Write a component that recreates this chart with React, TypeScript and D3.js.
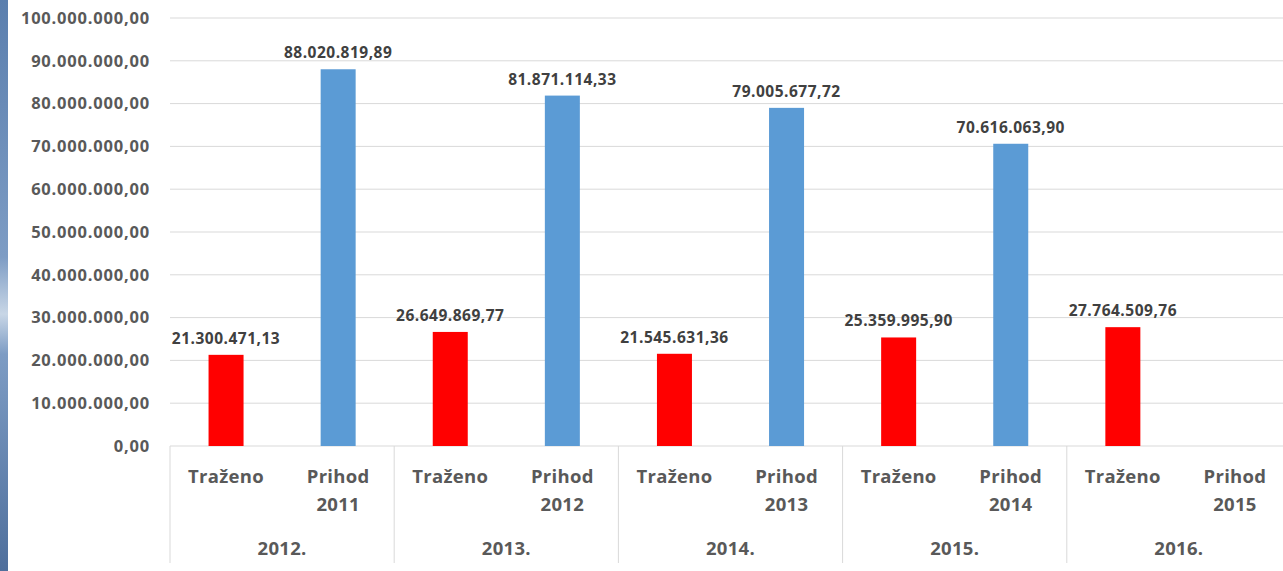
import React from "react";
import * as d3 from "d3";

const categories = ["Traženo", "Prihod\n2011", "Traženo", "Prihod\n2012", "Traženo", "Prihod\n2013", "Traženo", "Prihod\n2014", "Traženo", "Prihod\n2015"];
const groups = ["2012.", "2013.", "2014.", "2015.", "2016."];
const values: (number | null)[] = [21300471.13, 88020819.89, 26649869.77, 81871114.33, 21545631.36, 79005677.72, 25359995.9, 70616063.9, 27764509.76, null];
const kinds = ["t", "p", "t", "p", "t", "p", "t", "p", "t", "p"];
const yTicks = [0, 10e6, 20e6, 30e6, 40e6, 50e6, 60e6, 70e6, 80e6, 90e6, 100e6];

const W = 1283, H = 571;
const left = 170, right = 1291, top = 18, bottom = 446;
const locale = d3.formatLocale({ decimal: ",", thousands: ".", grouping: [3], currency: ["", ""] });
const fmt = locale.format(",.2f");
const FONT = "'Open Sans', sans-serif";
const GREY = "#595959";

export default function App() {
  const x = d3.scaleBand<number>().domain(d3.range(categories.length)).range([left, right]);
  const y = d3.scaleLinear().domain([0, 100e6]).range([bottom, top]);
  const bw = 35;
  const groupW = (right - left) / groups.length;
  return (
    <div style={{ position: "absolute", left: 0, top: 0 }}>
      <svg width={W} height={H} style={{ display: "block", background: "#fff" }}>
        <defs>
          <linearGradient id="strip" x1="0" y1="0" x2="0" y2="1">
            <stop offset="0" stopColor="#5b7fae" />
            <stop offset="0.45" stopColor="#7d9cc4" />
            <stop offset="0.55" stopColor="#c8d6e6" />
            <stop offset="0.62" stopColor="#7d9cc4" />
            <stop offset="1" stopColor="#4f6f9c" />
          </linearGradient>
        </defs>
        <rect x={0} y={0} width={8} height={H} fill="url(#strip)" />
        {yTicks.map((t) => (
          <g key={t}>
            {t > 0 && <line x1={left} x2={W} y1={y(t)} y2={y(t)} stroke="#d9d9d9" strokeWidth={1} />}
            <text x={150} y={y(t)} dy="0.35em" textAnchor="end" fontFamily={FONT} fontWeight={700} fontSize={16.5} letterSpacing={0.8} fill={GREY}>
              {fmt(t)}
            </text>
          </g>
        ))}
        <line x1={left} x2={W} y1={bottom} y2={bottom} stroke="#d9d9d9" strokeWidth={1} />
        {groups.map((g, i) => (
          <g key={g}>
            <line x1={left + i * groupW} x2={left + i * groupW} y1={bottom} y2={563} stroke="#d9d9d9" strokeWidth={1} />
            <text x={left + (i + 0.5) * groupW} y={555} textAnchor="middle" fontFamily={FONT} fontWeight={700} fontSize={18.5} letterSpacing={0.3} fill={GREY}>
              {g}
            </text>
          </g>
        ))}
        {categories.map((c, i) => {
          const cx = (x(i) as number) + x.bandwidth() / 2;
          const lines = c.split("\n");
          return (
            <text key={i} textAnchor="middle" fontFamily={FONT} fontWeight={700} fontSize={18.5} letterSpacing={0.3} fill={GREY}>
              {lines.map((l, j) => (
                <tspan key={j} x={cx} y={483 + j * 28}>{l}</tspan>
              ))}
            </text>
          );
        })}
        {values.map((v, i) => {
          if (v == null) return null;
          const cx = (x(i) as number) + x.bandwidth() / 2;
          return (
            <g key={i}>
              <rect x={cx - bw / 2} y={y(v)} width={bw} height={bottom - y(v)} fill={kinds[i] === "t" ? "#ff0000" : "#5b9bd5"} />
              <text x={cx} y={y(v) - 11} textAnchor="middle" fontFamily={FONT} fontWeight={700} fontSize={15.5} letterSpacing={0.5} fill="#404040">
                {fmt(v)}
              </text>
            </g>
          );
        })}
      </svg>
    </div>
  );
}
